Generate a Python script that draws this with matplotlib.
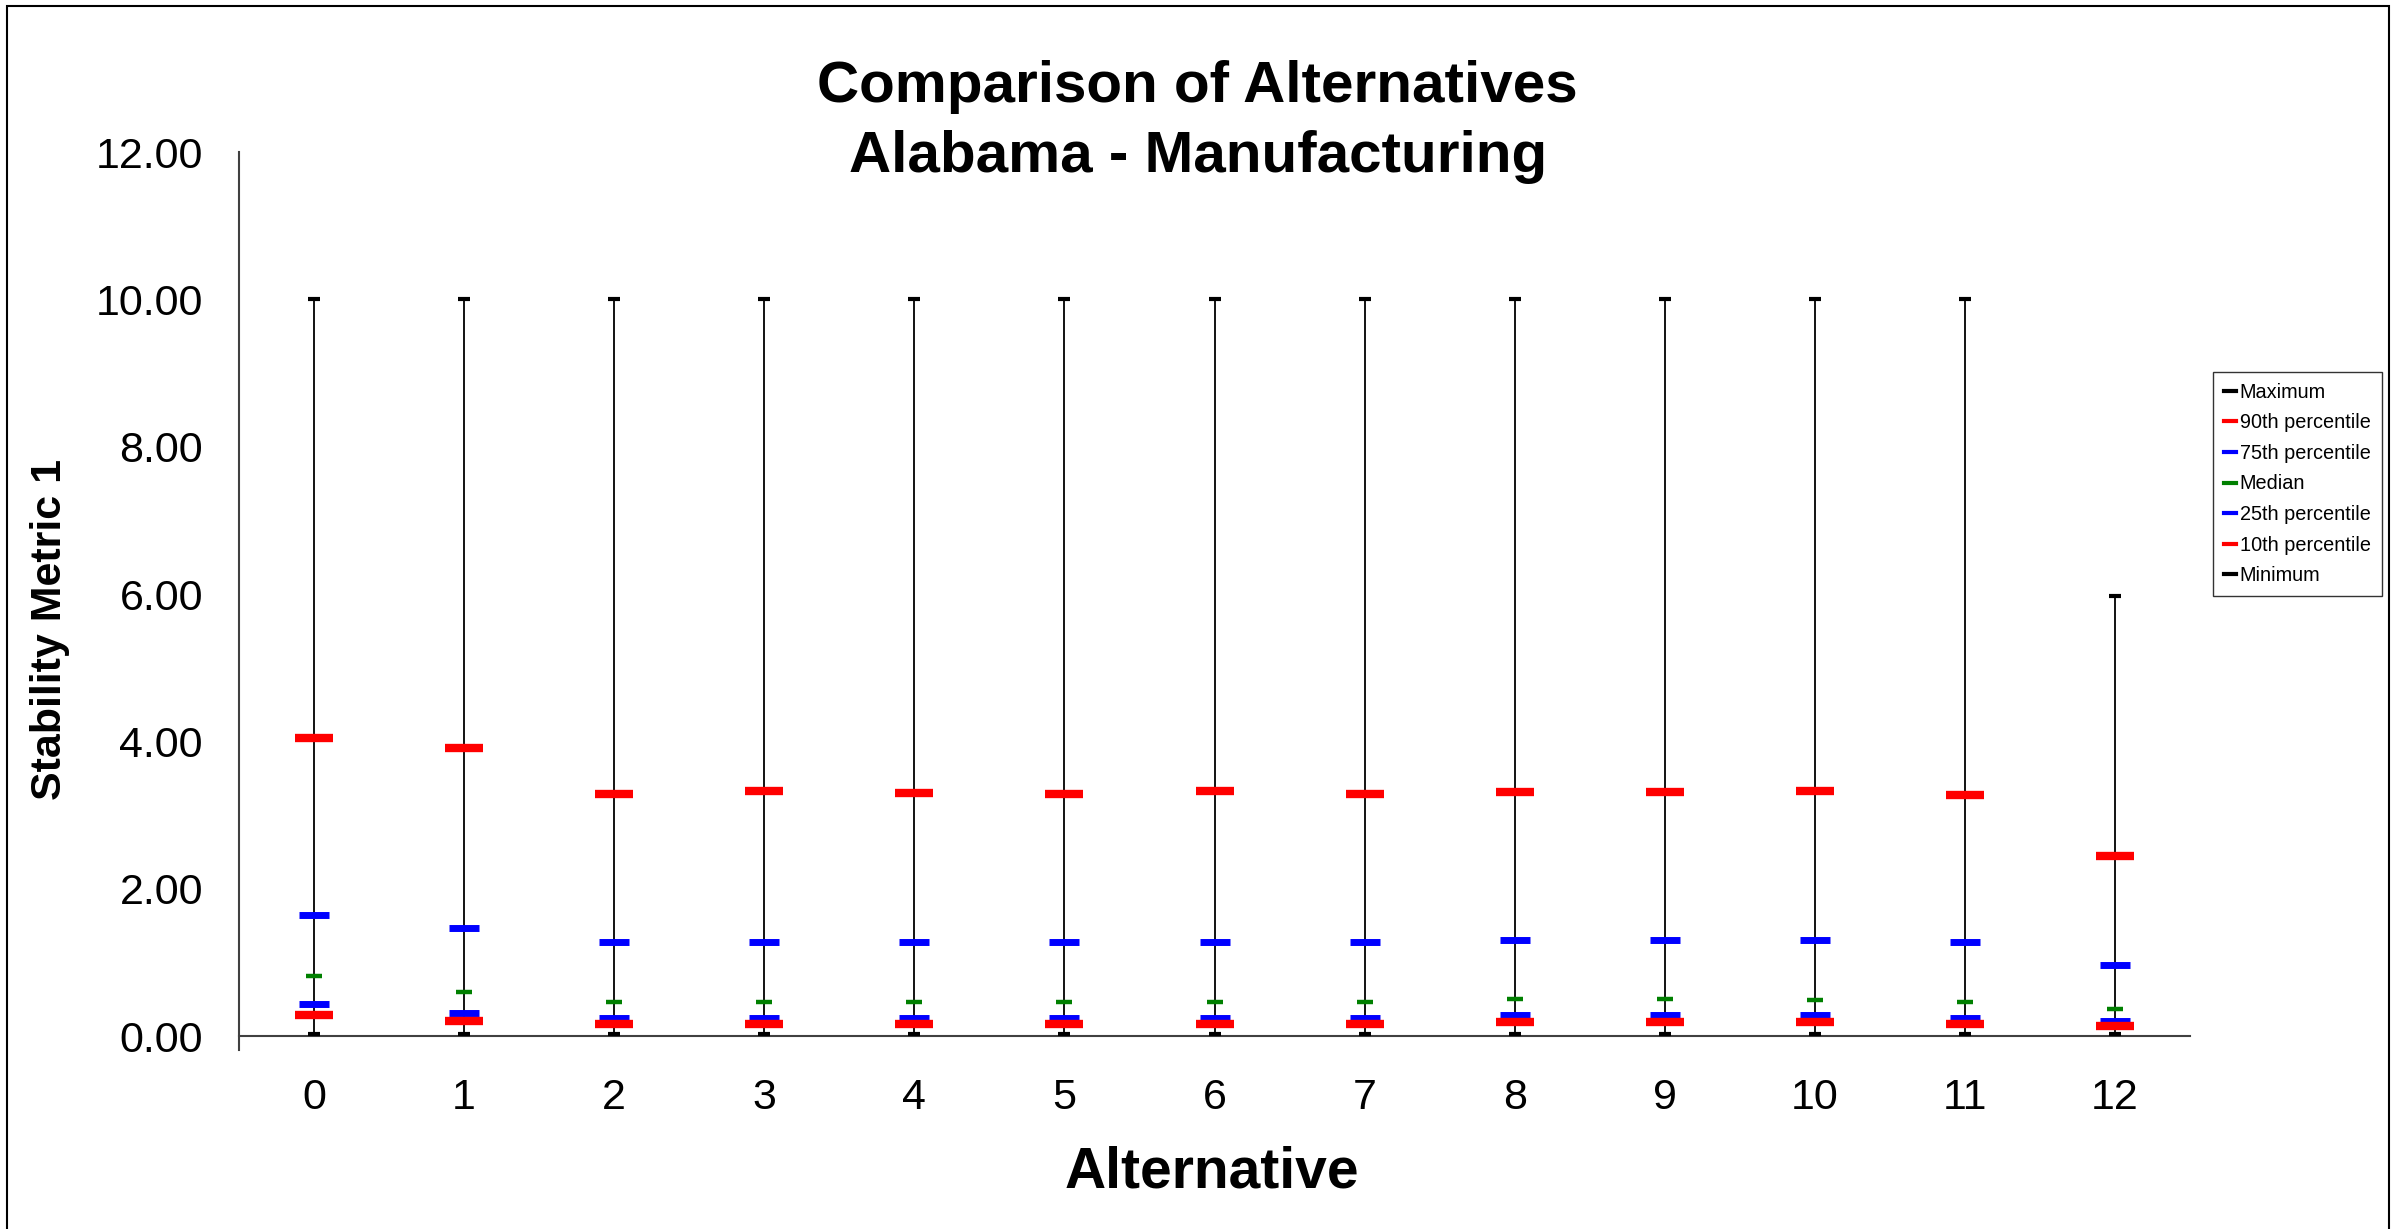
import matplotlib
matplotlib.use("Agg")
import matplotlib.pyplot as plt
from matplotlib.lines import Line2D
from matplotlib.patches import Rectangle

plt.rcParams['font.family'] = ['Liberation Sans', 'DejaVu Sans']

# values
alternatives = [0, 1, 2, 3, 4, 5, 6, 7, 8, 9, 10, 11, 12]
maximum = [10.0, 10.0, 10.0, 10.0, 10.0, 10.0, 10.0, 10.0, 10.0, 10.0, 10.0, 10.0, 5.97]
p90 = [4.05, 3.91, 3.28, 3.32, 3.30, 3.28, 3.32, 3.29, 3.31, 3.31, 3.32, 3.27, 2.44]
p75 = [1.64, 1.47, 1.28, 1.28, 1.28, 1.28, 1.28, 1.28, 1.30, 1.30, 1.30, 1.28, 0.97]
median = [0.81, 0.60, 0.46, 0.46, 0.46, 0.46, 0.46, 0.46, 0.50, 0.50, 0.49, 0.46, 0.37]
p25 = [0.44, 0.31, 0.25, 0.25, 0.25, 0.25, 0.25, 0.25, 0.28, 0.28, 0.28, 0.25, 0.21]
p10 = [0.29, 0.20, 0.16, 0.16, 0.16, 0.16, 0.16, 0.16, 0.19, 0.19, 0.19, 0.16, 0.13]
minimum = [0.03] * 13

W, H = 2397, 1229
fig = plt.figure(figsize=(W / 100, H / 100), dpi=100)
ax = fig.add_axes([239 / W, 1 - 1036 / H, (2190 - 239) / W, (1036 - 152) / H])

# whiskers
ax.vlines(alternatives, minimum, maximum, color='black', lw=1.3, zorder=2)

series = [
    ("Maximum", maximum, 'black', 8.6, 3.0),
    ("90th percentile", p90, '#ff0000', 27.5, 6.0),
    ("75th percentile", p75, '#0000ff', 21.5, 5.0),
    ("Median", median, '#008000', 11.5, 3.2),
    ("25th percentile", p25, '#0000ff', 21.5, 5.0),
    ("10th percentile", p10, '#ff0000', 27.5, 6.0),
    ("Minimum", minimum, 'black', 8.6, 3.0),
]
handles = []
for name, vals, col, ms, mew in series:
    ax.plot(alternatives, vals, ls='none', marker='_', ms=ms, mew=mew,
            color=col, zorder=3, clip_on=False)
    handles.append(Line2D([0], [0], color=col, lw=3, label=name))

ax.set_xlim(-0.5, 12.5)
ax.set_ylim(0, 12)
ax.set_yticks([0, 2, 4, 6, 8, 10, 12])
ax.set_yticklabels([f"{v:.2f}" for v in [0, 2, 4, 6, 8, 10, 12]])
ax.set_xticks(alternatives)
ax.set_xticklabels([str(a) for a in alternatives])
ax.tick_params(axis='y', length=0, pad=26, labelsize=31)
ax.tick_params(axis='x', length=0, pad=30, labelsize=31)

for s in ['top', 'right']:
    ax.spines[s].set_visible(False)
for s in ['left', 'bottom']:
    ax.spines[s].set_color('#404040')
    ax.spines[s].set_linewidth(1.5)
ax.spines['left'].set_bounds(-0.19, 12)

fig.text(0.4997, 1 - 87 / H, "Comparison of Alternatives", ha='center', va='center',
         fontsize=42, fontweight='bold')
fig.text(0.4997, 1 - 157 / H, "Alabama - Manufacturing", ha='center', va='center',
         fontsize=42, fontweight='bold')
fig.text(50 / W, 1 - 629 / H, "Stability Metric 1", rotation=90, ha='center', va='center',
         fontsize=31, fontweight='bold')
fig.text(1212 / W, 1 - 1172 / H, "Alternative", ha='center', va='center',
         fontsize=41, fontweight='bold')

leg = fig.legend(handles=handles, loc='upper left', bbox_to_anchor=(2213 / W, 1 - 372 / H),
                 frameon=True, fancybox=False, fontsize=14.3, handlelength=0.6,
                 handletextpad=0.2, labelspacing=0.58, borderpad=0.55, borderaxespad=0)
leg.get_frame().set_edgecolor('black')
leg.get_frame().set_linewidth(1.0)

# outer chart border
fig.patches.append(Rectangle((7 / W, -0.01), (2389 - 7) / W, 1 - 6 / H + 0.01,
                             transform=fig.transFigure, fill=False, ec='black', lw=1.5))

plt.savefig("out.png", dpi=100)
